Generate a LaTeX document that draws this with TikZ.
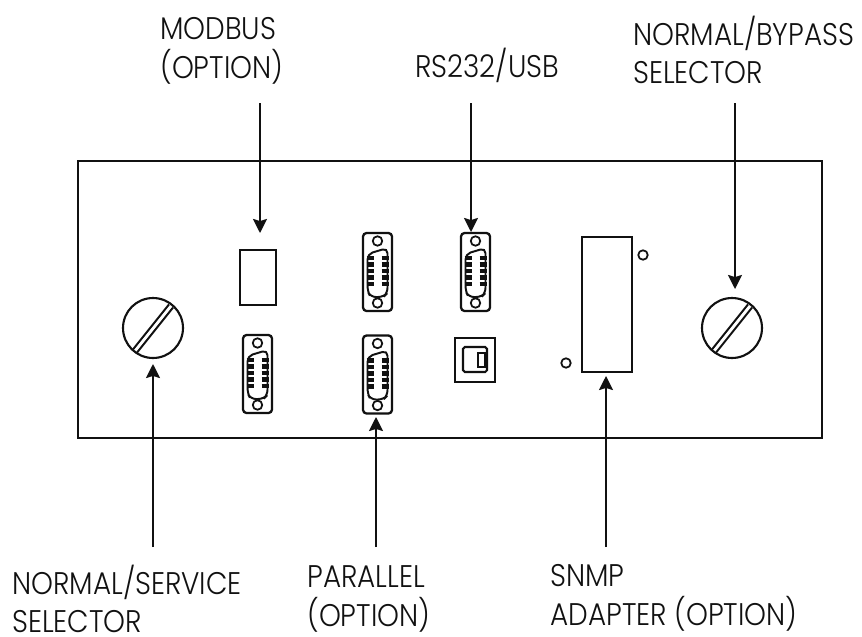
\documentclass[tikz,border=0pt]{standalone}
\usepackage{fontspec}
\setmainfont{Poppins Light}[FakeStretch=0.89]
\usetikzlibrary{arrows.meta}
\definecolor{ink}{HTML}{111111}
\tikzset{
  every node/.style={text=ink},
  label/.style={font=\fontsize{17.8}{22}\selectfont, align=left, anchor=west, inner sep=0pt},
  panel/.style={draw=ink, line width=1.1pt, minimum width=14.88cm, minimum height=5.54cm, inner sep=0pt},
  plainbox/.style={draw=ink, line width=1.2pt, inner sep=0pt},
  screw/.style={circle, draw=ink, line width=1.2pt, minimum size=1.2cm, inner sep=0pt},
  hole/.style={circle, draw=ink, line width=1pt, minimum size=0.19cm, inner sep=0pt},
  port/.style={plainbox, rounded corners=2pt, line width=1.3pt, minimum width=0.58cm, minimum height=1.56cm},
  arr/.style={-{Stealth[length=8pt,width=8pt,inset=1.2pt]}, draw=ink, line width=1pt},
}
\begin{document}
\begin{tikzpicture}[x=0.02cm,y=-0.02cm]
  \useasboundingbox (0,0) rectangle (862,636);

  % panel
  \node[panel] (front) at (450,299.5) {};

  % selectors
  \foreach \name/\x in {service/153,bypass/732} {
    \node[screw] (\name) at (\x,328) {};
    \draw[ink, line width=1.1pt] (\x-20,328+21.4) -- (\x+16,328-23.6);
    \draw[ink, line width=1.1pt] (\x-16,328+24.6) -- (\x+20,328-20.4);
  }

  % sub-d connectors
  \foreach \name/\x/\y in {parallela/377.5/272,rsport/475.5/272,lowport/257.5/374,parallelb/377.5/374.5} {
    \node[port] (\name) at (\x,\y) {};
    \node[hole] (\name top) at (\x,\y-31) {};
    \node[hole] (\name bot) at (\x,\y+31) {};
    \draw[ink, line width=1.1pt, rounded corners=3pt]
      (\x-10,\y-18) -- (\x+10,\y-24) -- (\x+10,\y+21) -- (\x+6,\y+25) -- (\x-7,\y+25) -- (\x-10,\y+19) -- cycle;
    \foreach \r in {-14,-7.5,-1,5.5,12} {
      \draw[ink, line width=2.3pt] (\x-11,\y+\r) -- (\x-4,\y+\r);
      \draw[ink, line width=2.3pt] (\x+4,\y+\r) -- (\x+11,\y+\r);
    }
  }

  % modbus, usb and snmp
  \node[plainbox, minimum width=0.72cm, minimum height=1.1cm] (modbus) at (258,277.5) {};
  \node[plainbox, minimum width=0.8cm, minimum height=0.88cm] (usb) at (475,360) {};
  \node[plainbox, rounded corners=1pt, minimum width=0.48cm, minimum height=0.5cm] (usbin) at (475,359.5) {};
  \node[plainbox, minimum width=0.14cm, minimum height=0.28cm] (usbtab) at (481.5,360) {};
  \node[plainbox, minimum width=1cm, minimum height=2.7cm] (snmp) at (607,304.5) {};
  \node[hole] (snmptop) at (643,255) {};
  \node[hole] (snmpbot) at (566,363) {};

  % labels
  \node[label] (lmodbus) at (160,51) {MODBUS\\(OPTION)};
  \node[label] (lrs) at (415,65) {RS232/USB};
  \node[label] (lbypass) at (633,50) {NORMAL/BYPASS\\SELECTOR};
  \node[label] (lservice) at (12,599) {NORMAL/SERVICE\\SELECTOR};
  \node[label] (lparallel) at (307,599) {PARALLEL\\(OPTION)};
  \node[label] (lsnmp) at (550,598) {SNMP\\ADAPTER (OPTION)};

  % arrows
  \coordinate (amodbus) at (260,103);
  \coordinate (ars) at (471,103);
  \coordinate (abypass) at (735,103);
  \coordinate (aservice) at (153,547);
  \coordinate (aparallel) at (376,547);
  \coordinate (asnmp) at (606,547);
  \draw[arr] (amodbus) -- (260,233);
  \draw[arr] (ars) -- (471,232);
  \draw[arr] (abypass) -- (735,289);
  \draw[arr] (aservice) -- (153,364);
  \draw[arr] (aparallel) -- (376,417);
  \draw[arr] (asnmp) -- (606,376);
\end{tikzpicture}
\end{document}
